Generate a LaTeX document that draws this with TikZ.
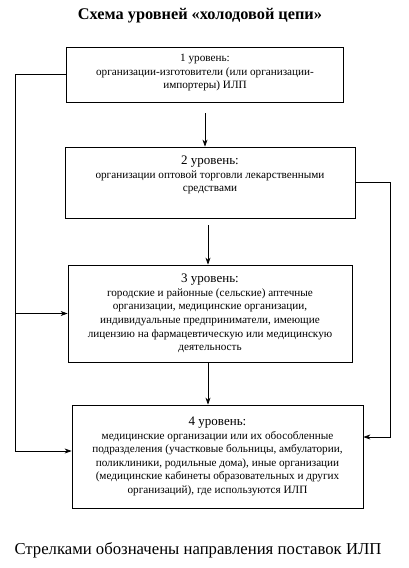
\documentclass[tikz,border=0pt]{standalone}
\usepackage{fontspec}
\setmainfont{Liberation Serif}
\usetikzlibrary{arrows.meta}
\tikzstyle{level}=[draw,line width=0.8pt,align=center,inner sep=2pt,font=\fontsize{11.2}{13.6}\selectfont]
\tikzstyle{supply}=[-{Stealth[length=7pt,width=5pt]},line width=0.6pt]
\newcommand{\hdr}[1]{{\fontsize{13}{15}\selectfont #1}}

\begin{document}
\begin{tikzpicture}[x=1pt,y=-1pt]
	\useasboundingbox (0,0) rectangle (409,568);
	\node (title) at (200,16) {\fontsize{16.3}{18}\selectfont\bfseries Схема уровней «холодовой цепи»};
	\node [level,minimum width=277pt,minimum height=55pt,text depth=6pt] (b1) at (205,74.5)
		{1 уровень:\\организации-изготовители (или организации-\\импортеры) ИЛП};
	\node [level,minimum width=290pt,minimum height=71pt,text depth=17pt] (b2) at (210,182.5)
		{\hdr{2 уровень:}\\организации оптовой торговли лекарственными\\средствами};
	\node [level,minimum width=284pt,minimum height=97pt] (b3) at (210,313.5)
		{\hdr{3 уровень:}\\городские и районные (сельские) аптечные\\организации, медицинские организации,\\индивидуальные предприниматели, имеющие\\лицензию на фармацевтическую или медицинскую\\деятельность};
	\node [level,minimum width=291pt,minimum height=103pt] (b4) at (217.5,456.5)
		{\hdr{4 уровень:}\\медицинские организации или их обособленные\\подразделения (участковые больницы, амбулатории,\\поликлиники, родильные дома), иные организации\\(медицинские кабинеты образовательных и других\\организаций), где используются ИЛП};
	\node (note) at (198,550) {\fontsize{16.7}{18}\selectfont Стрелками обозначены направления поставок ИЛП};
	% vertical supply arrows
	\draw [supply,shorten <=11pt] (b1.south) -- (b1.south |- b2.north);
	\draw [supply,shorten <=7pt] (b2.south -| 208,0) -- (b3.north -| 208,0);
	\draw [supply] (b3.south -| 208,0) -- (b4.north -| 208,0);
	% side lines
	\coordinate (lb) at (15,451);
	\coordinate (rb) at (390,437);
	\draw [supply] (b1.west) -| (lb) -- (lb -| b4.west);
	\draw [supply] (lb |- b3.west) -- (b3.west);
	\draw [supply] (b2.east) -| (rb) -- (rb -| b4.east);
\end{tikzpicture}
\end{document}
